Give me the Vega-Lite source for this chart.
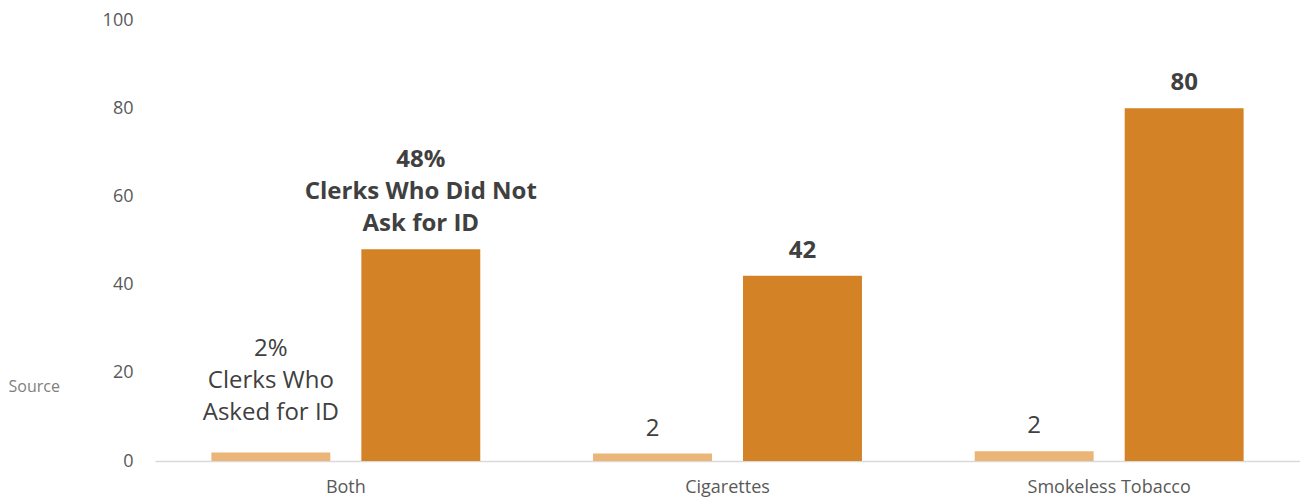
{
  "$schema": "https://vega.github.io/schema/vega-lite/v6.json",
  "width": 1145,
  "height": 441,
  "autosize": {"type": "none"},
  "padding": {"left": 155, "top": 20, "right": 0, "bottom": 36},
  "background": "white",
  "config": {
    "view": {"stroke": null},
    "font": "Open Sans",
    "text": {"lineBreak": "\n"}
  },
  "data": {
    "values": [
      {"group": "Both", "type": "Asked", "value": 1.9, "label": "2%\nClerks Who\nAsked for ID"},
      {"group": "Both", "type": "NotAsked", "value": 48, "label": "48%\nClerks Who Did Not\nAsk for ID"},
      {"group": "Cigarettes", "type": "Asked", "value": 1.7, "label": "2"},
      {"group": "Cigarettes", "type": "NotAsked", "value": 42, "label": "42"},
      {"group": "Smokeless Tobacco", "type": "Asked", "value": 2.2, "label": "2"},
      {"group": "Smokeless Tobacco", "type": "NotAsked", "value": 80, "label": "80"}
    ]
  },
  "encoding": {
    "x": {
      "field": "group",
      "type": "nominal",
      "sort": ["Both", "Cigarettes", "Smokeless Tobacco"],
      "scale": {"paddingInner": 0, "paddingOuter": 0},
      "axis": {
        "title": null,
        "labelAngle": 0,
        "ticks": false,
        "domainColor": "#d9d9d9",
        "domainWidth": 1.5,
        "labelFont": "Open Sans",
        "labelFontSize": 18,
        "labelColor": "#595959",
        "labelPadding": 17
      }
    },
    "xOffset": {
      "field": "type",
      "type": "nominal",
      "sort": ["Asked", "NotAsked"],
      "scale": {"paddingInner": 0.207, "paddingOuter": 0.376}
    },
    "y": {
      "field": "value",
      "type": "quantitative",
      "scale": {"domain": [0, 100], "nice": false},
      "axis": {
        "values": [0, 20, 40, 60, 80, 100],
        "domain": false,
        "ticks": false,
        "grid": false,
        "labelFont": "Open Sans",
        "labelFontSize": 18,
        "labelColor": "#595959",
        "labelPadding": 22,
        "title": "Source",
        "titleAngle": 0,
        "titleAlign": "left",
        "titleBaseline": "middle",
        "titleX": -147,
        "titleY": 366,
        "titleFont": "Open Sans",
        "titleFontSize": 16,
        "titleFontWeight": "normal",
        "titleColor": "#808080"
      }
    }
  },
  "layer": [
    {
      "mark": {"type": "bar"},
      "encoding": {
        "color": {
          "field": "type",
          "type": "nominal",
          "scale": {"domain": ["Asked", "NotAsked"], "range": ["#EBB577", "#D38226"]},
          "legend": null
        }
      }
    },
    {
      "transform": [{"filter": "datum.type === 'Asked' && datum.group === 'Both'"}],
      "mark": {"type": "text", "baseline": "alphabetic", "dy": -97, "fontSize": 24, "lineHeight": 32, "color": "#404040", "font": "Open Sans"},
      "encoding": {"text": {"field": "label"}}
    },
    {
      "transform": [{"filter": "datum.type === 'NotAsked' && datum.group === 'Both'"}],
      "mark": {"type": "text", "baseline": "alphabetic", "dy": -82, "fontSize": 24, "fontWeight": "bold", "lineHeight": 32, "color": "#404040", "font": "Open Sans"},
      "encoding": {"text": {"field": "label"}}
    },
    {
      "transform": [{"filter": "datum.type === 'Asked' && datum.group !== 'Both'"}],
      "mark": {"type": "text", "baseline": "alphabetic", "dy": -18, "fontSize": 24, "color": "#404040", "font": "Open Sans"},
      "encoding": {"text": {"field": "label"}}
    },
    {
      "transform": [{"filter": "datum.type === 'NotAsked' && datum.group !== 'Both'"}],
      "mark": {"type": "text", "baseline": "alphabetic", "dy": -18, "fontSize": 24, "fontWeight": "bold", "color": "#404040", "font": "Open Sans"},
      "encoding": {"text": {"field": "label"}}
    }
  ]
}
